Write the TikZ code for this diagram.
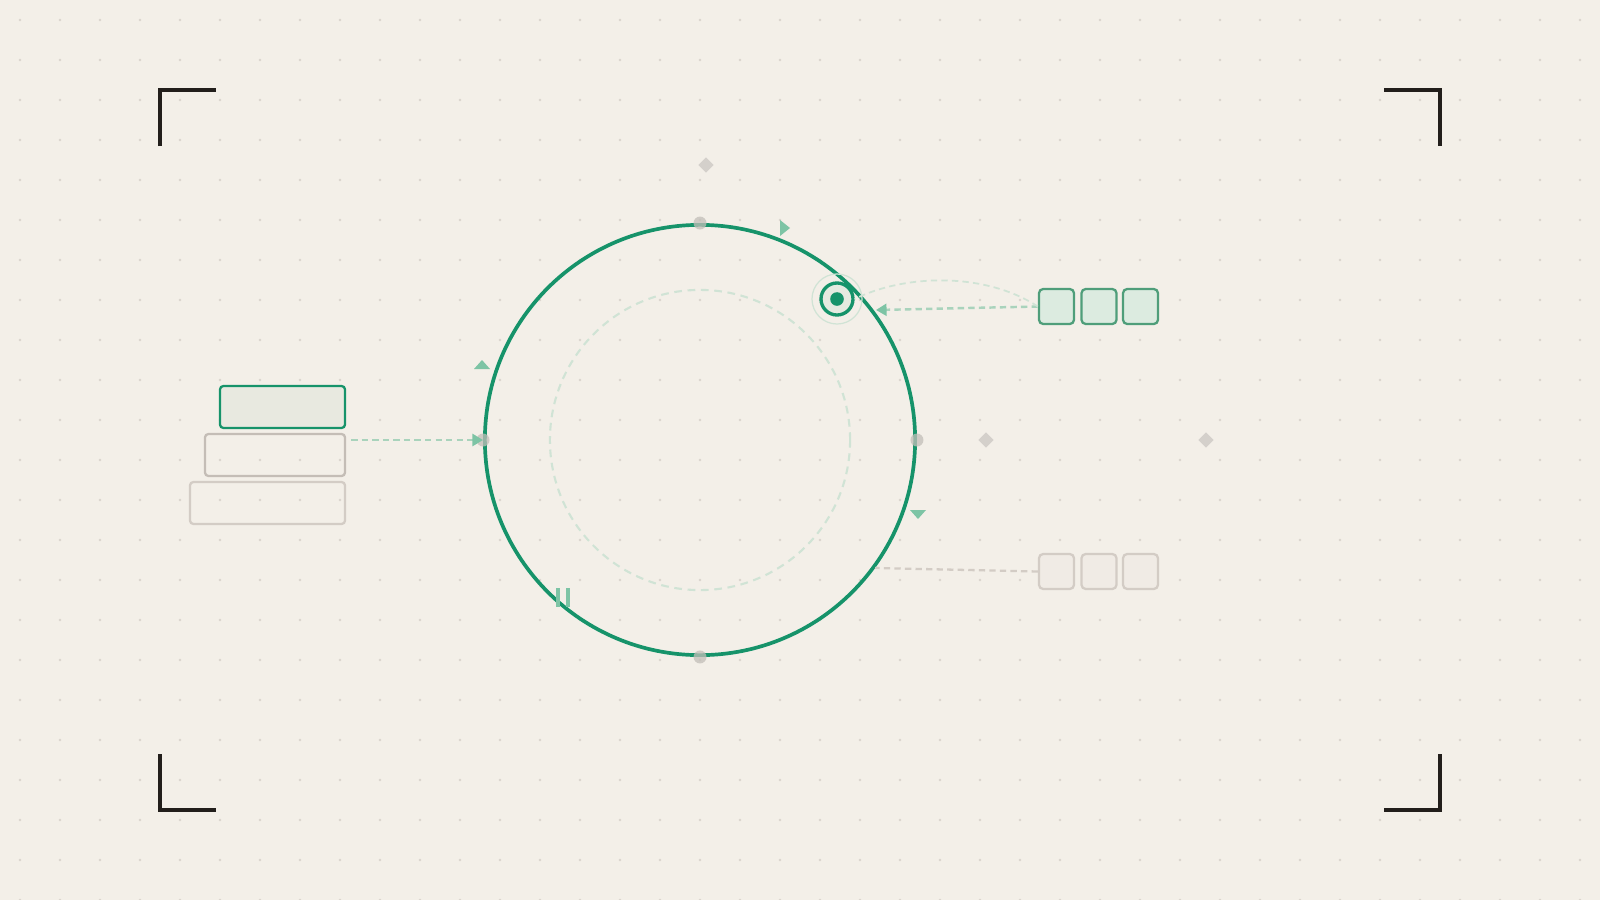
\documentclass[tikz,border=0pt]{standalone}
\usetikzlibrary{arrows.meta,shapes.geometric}
\definecolor{bgc}{HTML}{F3EFE8}
\definecolor{dotc}{HTML}{DAD4CD}
\definecolor{brk}{HTML}{221E1B}
\definecolor{grn}{HTML}{16936A}
\definecolor{lgrn}{HTML}{7DC4A5}
\definecolor{dgrn}{HTML}{A9D3BC}
\definecolor{igrn}{HTML}{D0E3D5}
\definecolor{boxg}{HTML}{DCEBE0}
\definecolor{boxgb}{HTML}{4F9E7A}
\definecolor{gbor}{HTML}{C4BDB6}
\definecolor{gbor2}{HTML}{D3CCC5}
\definecolor{gfill}{HTML}{F0EBE5}
\definecolor{diac}{HTML}{D4D0CB}
\definecolor{cardc}{HTML}{C2BEB8}
\definecolor{l1fill}{HTML}{E8E9E0}
\tikzset{
  bracket/.style={draw=brk, line width=1.1pt},
  gbox/.style={draw=boxgb, fill=boxg, line width=0.65pt, rounded corners=1.2pt, minimum width=0.35cm, minimum height=0.35cm, inner sep=0pt},
  graybox/.style={draw=gbor2, fill=gfill, line width=0.65pt, rounded corners=1.2pt, minimum width=0.35cm, minimum height=0.35cm, inner sep=0pt},
  diamark/.style={diamond, fill=diac, minimum size=0.16cm, inner sep=0pt},
  cardmark/.style={fill=cardc, opacity=0.75},
  tri/.style={fill=lgrn},
  dashline/.style={draw=dgrn, line width=0.7pt, dash pattern=on 1.8pt off 1.2pt},
  stackbox/.style={rounded corners=1pt, inner sep=0pt, minimum height=0.42cm, line width=0.65pt}
}
\begin{document}
\begin{tikzpicture}[x=0.01cm,y=-0.01cm]
\fill[bgc] (0,0) rectangle (1600,900);
\useasboundingbox (0,0) rectangle (1600,900);
% dot grid
\foreach \i in {0,...,39} {
  \foreach \j in {0,...,22} {
    \fill[dotc] (20+40*\i,20+40*\j) circle[radius=0.013cm];
  }
}
% corner brackets
\draw[bracket] (160,146) -- (160,90) -- (216,90);
\draw[bracket] (1384,90) -- (1440,90) -- (1440,146);
\draw[bracket] (160,754) -- (160,810) -- (216,810);
\draw[bracket] (1384,810) -- (1440,810) -- (1440,754);
% inner dashed circle
\node[circle, draw=igrn, line width=0.6pt, dash pattern=on 2.2pt off 1.6pt, minimum size=3cm, inner sep=0pt] (inner) at (700,440) {};
% main ring
\node[circle, draw=grn, line width=1.05pt, minimum size=4.3cm, inner sep=0pt] (ring) at (700,440) {};
% cardinal marks
\fill[cardmark] (ring.north) circle[radius=0.065cm];
\fill[cardmark] (ring.south) circle[radius=0.065cm];
\fill[cardmark] (ring.west) circle[radius=0.065cm];
\fill[cardmark] (ring.east) circle[radius=0.065cm];
% diamonds
\node[diamark] (d1) at (706,165) {};
\node[diamark] (d2) at (986,440) {};
\node[diamark] (d3) at (1206,440) {};
% triangles
\fill[tri] (780,220) -- (790,228) -- (780,236) -- cycle;
\fill[tri] (474,369) -- (482,360) -- (490,369) -- cycle;
\fill[tri] (910,510) -- (926,510) -- (918,519) -- cycle;
% pause marks
\draw[lgrn, line width=1pt] (558,588) -- (558,607);
\draw[lgrn, line width=1pt] (568,588) -- (568,607);
% target
\node[circle, draw=igrn, line width=0.35pt, minimum size=0.5cm, inner sep=0pt] (halo) at (837,299) {};
\node[circle, draw=grn, fill=bgc!60!igrn, line width=0.95pt, minimum size=0.32cm, inner sep=0pt] (target) at (837,299) {};
\fill[grn] (target.center) circle[radius=0.068cm];
% top right boxes
\node[gbox] (b1) at (1056.5,306.5) {};
\node[gbox] (b2) at (1099,306.5) {};
\node[gbox] (b3) at (1140.5,306.5) {};
% bottom right boxes
\node[graybox] (c1) at (1056.5,571.5) {};
\node[graybox] (c2) at (1099,571.5) {};
\node[graybox] (c3) at (1140.5,571.5) {};
% left stack
\node[stackbox, draw=grn, fill=l1fill, minimum width=1.25cm] (l1) at (282.5,407) {};
\node[stackbox, draw=gbor, minimum width=1.40cm] (l2) at (275,455) {};
\node[stackbox, draw=gbor2, minimum width=1.55cm] (l3) at (267.5,503) {};
% connectors
\coordinate (tin) at (876,310);
\coordinate (gend) at (875,568);
\draw[dashline, -{Triangle[length=3pt,width=3.4pt,fill=lgrn,color=lgrn]}] (b1.west) -- (tin);
\draw[draw=igrn, line width=0.5pt, dash pattern=on 1.8pt off 1.2pt] (b1.west) .. controls (985,272) and (905,274) .. (target.east);
\draw[draw=gbor2, line width=0.65pt, dash pattern=on 1.8pt off 1.2pt] (c1.west) -- (gend);
\draw[dashline, shorten <=0.05cm, -{Triangle[length=3pt,width=3.4pt,fill=lgrn,color=lgrn]}] (l2.east |- ring.west) -- (ring.west);
\end{tikzpicture}
\end{document}
